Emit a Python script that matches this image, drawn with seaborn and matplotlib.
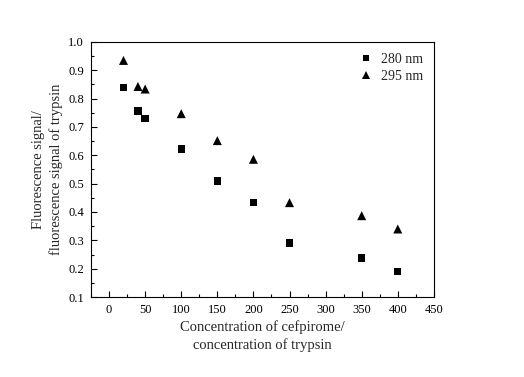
import matplotlib
matplotlib.use("Agg")
import matplotlib.pyplot as plt
import seaborn as sns
import pandas as pd
from matplotlib.ticker import MultipleLocator

ratio = [20, 40, 50, 100, 150, 200, 250, 350, 400]
signal_280 = [0.84, 0.757, 0.731, 0.622, 0.509, 0.434, 0.290, 0.238, 0.189]
signal_295 = [0.935, 0.843, 0.834, 0.747, 0.652, 0.586, 0.433, 0.387, 0.340]

df = pd.DataFrame({
    'ratio': ratio * 2,
    'signal': signal_280 + signal_295,
    'wavelength': ['280 nm'] * len(ratio) + ['295 nm'] * len(ratio),
})

sns.set_style('white')
plt.rcParams['font.family'] = ['Liberation Serif', 'DejaVu Serif']

fig = plt.figure(figsize=(5.24, 3.77), dpi=100)
ax = fig.add_axes([0.1737, 0.2122, 0.6543, 0.6764])

sns.scatterplot(data=df, x='ratio', y='signal', hue='wavelength', style='wavelength',
                size='wavelength', sizes={'280 nm': 28, '295 nm': 42},
                markers={'280 nm': 's', '295 nm': '^'},
                palette={'280 nm': 'black', '295 nm': 'black'},
                edgecolor='black', linewidth=0, ax=ax)

ax.set_xlim(-25, 450)
ax.set_ylim(0.1, 1.0)
ax.xaxis.set_major_locator(MultipleLocator(50))
ax.xaxis.set_minor_locator(MultipleLocator(25))
ax.yaxis.set_major_locator(MultipleLocator(0.1))
ax.yaxis.set_minor_locator(MultipleLocator(0.05))
ax.tick_params(which='both', direction='in', top=False, right=False,
               bottom=True, left=True, labelsize=9, colors='black')
ax.tick_params(which='major', length=4, width=0.8, pad=5)
ax.tick_params(which='minor', length=2, width=0.8)
ax.yaxis.set_major_formatter(plt.FuncFormatter(lambda v, p: f'{v:.1f}'))

for s in ax.spines.values():
    s.set_color('black')
    s.set_linewidth(0.8)

ax.set_xlabel('Concentration of cefpirome/\nconcentration of trypsin', fontsize=10.5,
              labelpad=3, linespacing=1.4)
ax.set_ylabel('Fluorescence signal/\nfluorescence signal of trypsin', fontsize=10.5,
              labelpad=4, linespacing=1.4)

leg = ax.legend(loc='upper right', frameon=False, fontsize=10, handletextpad=0.05,
                borderaxespad=0.4, labelspacing=0.3, markerscale=0.8)

fig.savefig('out.png', dpi=100)
